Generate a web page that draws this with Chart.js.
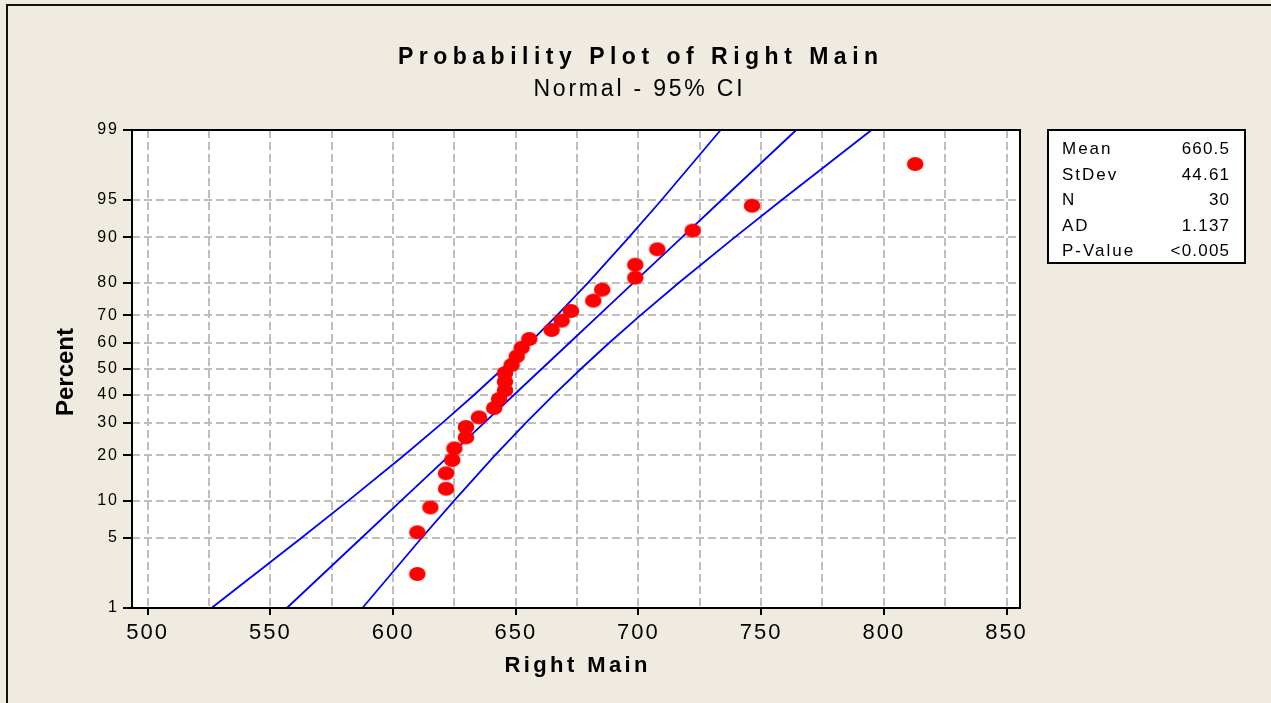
<!DOCTYPE html>
<html>
<head>
<meta charset="utf-8">
<script src="https://cdn.jsdelivr.net/npm/chart.js@4.4.1/dist/chart.umd.min.js"></script>
<style>
  html, body { margin: 0; padding: 0; background: #F0EBE0; }
  #wrap { position: relative; width: 1271px; height: 703px; }
  canvas { display: block; }
</style>
</head>
<body>
<div id="wrap"><canvas id="c" width="1271" height="703"></canvas></div>
<script>
// ---------------- data ----------------
const chartTitle = 'Probability Plot of Right Main';
const chartSubtitle = 'Normal - 95% CI';
const xAxisTitle = 'Right Main';
const yAxisTitle = 'Percent';

const xValues = [609.9, 609.9, 615.2, 621.6, 621.6, 624.1, 625.0, 629.7, 629.7, 635.0,
                 641.2, 643.2, 645.6, 645.6, 645.6, 648.3, 650.4, 652.4, 655.5, 664.6,
                 668.7, 672.5, 681.6, 685.2, 698.7, 698.7, 707.7, 722.1, 746.3, 812.8];
const yPercents = [2.3, 5.6, 8.9, 12.2, 15.5, 18.8, 22.0, 25.3, 28.6, 31.9,
                   35.2, 38.5, 41.8, 45.1, 48.4, 51.6, 54.9, 58.2, 61.5, 64.8,
                   68.1, 71.4, 74.7, 78.0, 81.3, 84.5, 87.8, 91.1, 94.4, 97.7];

const linePercents = [1, 5, 10, 20, 30, 40, 50, 60, 70, 80, 90, 95, 99];
const fitValues   = [556.7, 587.1, 603.3, 623.0, 637.1, 649.2, 660.5, 671.8, 683.9, 698.0, 717.7, 733.9, 764.3];
const lowerValues = [526.0, 562.6, 581.8, 604.4, 620.1, 633.0, 644.5, 655.6, 666.9, 679.5, 696.1, 709.4, 733.5];
const upperValues = [587.5, 611.6, 624.9, 641.5, 654.1, 665.4, 676.5, 688.0, 700.9, 716.6, 739.2, 758.4, 795.0];

const yTickValues = [1, 5, 10, 20, 30, 40, 50, 60, 70, 80, 90, 95, 99];
const xGridValues = [500, 525, 550, 575, 600, 625, 650, 675, 700, 725, 750, 775, 800, 825, 850];
const xTickLabels = [500, 550, 600, 650, 700, 750, 800, 850];

const statLabels = ['Mean', 'StDev', 'N', 'AD', 'P-Value'];
const statValues = ['660.5', '44.61', '30', '1.137', '<0.005'];

// ---------------- helpers ----------------
const FONT = "'Liberation Sans', Arial, sans-serif";

function normInv(p) {
  const a=[-3.969683028665376e+01,2.209460984245205e+02,-2.759285104469687e+02,1.383577518672690e+02,-3.066479806614716e+01,2.506628277459239e+00];
  const b=[-5.447609879822406e+01,1.615858368580409e+02,-1.556989798598866e+02,6.680131188771972e+01,-1.328068155288572e+01];
  const c=[-7.784894002430293e-03,-3.223964580411365e-01,-2.400758277161838e+00,-2.549671010050550e+00,4.374664141464968e+00,2.938163982698783e+00];
  const d=[7.784695709041462e-03,3.224671290700398e-01,2.445134137142996e+00,3.754408661907416e+00];
  const pl = 0.02425, ph = 1 - pl;
  let q, r;
  if (p < pl) { q = Math.sqrt(-2*Math.log(p)); return (((((c[0]*q+c[1])*q+c[2])*q+c[3])*q+c[4])*q+c[5])/((((d[0]*q+d[1])*q+d[2])*q+d[3])*q+1); }
  if (p <= ph) { q = p - 0.5; r = q*q; return (((((a[0]*r+a[1])*r+a[2])*r+a[3])*r+a[4])*r+a[5])*q/(((((b[0]*r+b[1])*r+b[2])*r+b[3])*r+b[4])*r+1); }
  q = Math.sqrt(-2*Math.log(1-p));
  return -(((((c[0]*q+c[1])*q+c[2])*q+c[3])*q+c[4])*q+c[5])/((((d[0]*q+d[1])*q+d[2])*q+d[3])*q+1);
}
function normCdf(z) {
  const t = 1/(1+0.2316419*Math.abs(z));
  const dd = 0.3989423*Math.exp(-z*z/2);
  let p = dd*t*(0.3193815+t*(-0.3565638+t*(1.781478+t*(-1.821256+t*1.330274))));
  return z > 0 ? 1 - p : p;
}

// Normal-probability (probit) scale
class ProbitScale extends Chart.Scale {
  determineDataLimits() {
    this.min = yTickValues[0];
    this.max = yTickValues[yTickValues.length - 1];
  }
  buildTicks() { return yTickValues.map(v => ({ value: v })); }
  getLabelForValue(v) { return String(v); }
  _z(v) { return normInv(v / 100); }
  getPixelForValue(v) {
    const z0 = this._z(this.min), z1 = this._z(this.max);
    return this.getPixelForDecimal((this._z(v) - z0) / (z1 - z0));
  }
  getValueForPixel(px) {
    const z0 = this._z(this.min), z1 = this._z(this.max);
    const dec = this.getDecimalForPixel(px);
    return normCdf(z0 + dec * (z1 - z0)) * 100;
  }
}
ProbitScale.id = 'probit';
ProbitScale.defaults = {};
Chart.register(ProbitScale);

// ellipse marker
const marker = document.createElement('canvas');
marker.width = 18; marker.height = 16;
(function () {
  const m = marker.getContext('2d');
  m.fillStyle = '#FF0000';
  m.beginPath();
  m.ellipse(9, 8, 8.3, 7, 0, 0, Math.PI * 2);
  m.fill();
})();

function txt(ctx, s, x, y, font, spacing, align) {
  ctx.save();
  ctx.font = font;
  ctx.letterSpacing = spacing + 'px';
  ctx.fillStyle = '#000';
  ctx.textBaseline = 'alphabetic';
  ctx.textAlign = align;
  let dx = 0;
  if (align === 'center') dx = spacing / 2;
  if (align === 'right') dx = spacing;
  ctx.fillText(s, x + dx, y);
  ctx.restore();
}

const decor = {
  id: 'decor',
  beforeDraw(chart) {
    const { ctx, chartArea: a } = chart;
    ctx.save();
    ctx.fillStyle = '#FFFFFF';
    ctx.fillRect(a.left, a.top, a.right - a.left, a.bottom - a.top);
    // page frame
    ctx.strokeStyle = '#111';
    ctx.lineWidth = 2;
    ctx.beginPath();
    ctx.moveTo(7, 703); ctx.lineTo(7, 5); ctx.lineTo(1271, 5);
    ctx.stroke();
    ctx.restore();
    ctx.letterSpacing = '2px';
  },
  afterDraw(chart) {
    const { ctx, chartArea: a } = chart;
    ctx.letterSpacing = '0px';
    ctx.save();
    ctx.strokeStyle = '#000';
    ctx.lineWidth = 2;
    ctx.strokeRect(a.left, a.top, a.right - a.left, a.bottom - a.top);
    ctx.restore();

    txt(ctx, chartTitle, 638, 64, 'bold 23px ' + FONT, 5.5, 'center');
    txt(ctx, chartSubtitle, 638, 96, '23px ' + FONT, 2.8, 'center');
    txt(ctx, xAxisTitle, (a.left + a.right) / 2, 672, 'bold 22px ' + FONT, 3.4, 'center');

    ctx.save();
    ctx.translate(73, 372);
    ctx.rotate(-Math.PI / 2);
    txt(ctx, yAxisTitle, 0, 0, 'bold 24px ' + FONT, 0, 'center');
    ctx.restore();

    // statistics box
    ctx.save();
    ctx.fillStyle = '#FFFFFF';
    ctx.fillRect(1048, 130, 197, 133);
    ctx.strokeStyle = '#000';
    ctx.lineWidth = 2;
    ctx.strokeRect(1048, 130, 197, 133);
    ctx.restore();
    statLabels.forEach((lab, i) => {
      const y = 154 + i * 25.5;
      txt(ctx, lab, 1062, y, '17px ' + FONT, 2, 'left');
      txt(ctx, statValues[i], 1229, y, '17px ' + FONT, 1.2, 'right');
    });
  }
};

const pts = xValues.map((x, i) => ({ x: x, y: yPercents[i] }));
const mk = arr => arr.map((x, i) => ({ x: x, y: linePercents[i] }));

new Chart(document.getElementById('c'), {
  type: 'scatter',
  data: {
    datasets: [
      { label: 'Right Main', data: pts, pointStyle: marker, pointRadius: 8, showLine: false },
      { label: 'Fit', data: mk(fitValues), showLine: true, borderColor: '#0000FF', borderWidth: 1.8, pointRadius: 0, fill: false },
      { label: 'Lower CI', data: mk(lowerValues), showLine: true, borderColor: '#0000FF', borderWidth: 1.8, pointRadius: 0, fill: false },
      { label: 'Upper CI', data: mk(upperValues), showLine: true, borderColor: '#0000FF', borderWidth: 1.8, pointRadius: 0, fill: false }
    ]
  },
  options: {
    responsive: false,
    animation: false,
    events: [],
    devicePixelRatio: 1,
    layout: { padding: { left: 0, top: 130, right: 251, bottom: 0 } },
    plugins: { legend: { display: false }, tooltip: { enabled: false }, title: { display: false } },
    scales: {
      x: {
        type: 'linear',
        min: 493.6,
        max: 855.5,
        afterBuildTicks: s => { s.ticks = xGridValues.map(v => ({ value: v })); },
        afterFit: s => { s.height = 95; },
        ticks: {
          callback: v => xTickLabels.includes(v) ? String(v) : '',
          font: { family: FONT, size: 22 },
          color: '#000',
          padding: 5,
          autoSkip: false,
          maxRotation: 0
        },
        grid: {
          color: '#BEBEBE',
          lineWidth: 2,
          tickLength: 7,
          tickWidth: 2,
          tickColor: c => (c.tick && xTickLabels.includes(c.tick.value)) ? '#000' : 'rgba(0,0,0,0)'
        },
        border: { display: false, dash: [8, 4] }
      },
      y: {
        type: 'probit',
        position: 'left',
        afterFit: s => { s.width = 132; },
        ticks: {
          font: { family: FONT, size: 16 },
          color: '#000',
          padding: 4
        },
        grid: {
          color: '#BEBEBE',
          lineWidth: 2,
          tickLength: 9,
          tickWidth: 2,
          tickColor: '#000'
        },
        border: { display: false, dash: [8, 4] }
      }
    }
  },
  plugins: [decor]
});
</script>
</body>
</html>
